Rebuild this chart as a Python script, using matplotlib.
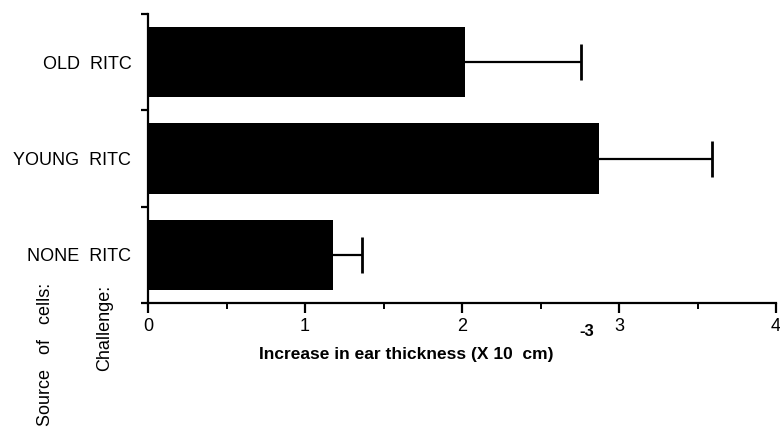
import numpy as np
import matplotlib
matplotlib.use('Agg')
import matplotlib.pyplot as plt
from matplotlib.ticker import MultipleLocator, FixedLocator

plt.rcParams['font.family'] = ['Liberation Sans', 'DejaVu Sans']

# bottom to top
groups = ['NONE  RITC', 'YOUNG  RITC', 'OLD  RITC']
means = [1.18, 2.87, 2.02]
errs = [0.18, 0.72, 0.74]

W, H = 780, 429
fig = plt.figure(figsize=(W / 100, H / 100), dpi=100)
# axes box in pixels: left 148, right 776, bottom axis at y=303, top at y=14
ax = fig.add_axes([148 / W, (H - 303) / H, (776 - 148) / W, (303 - 14) / H])

ypos = np.arange(len(groups))
tops = np.array(means) + np.array(errs)
ax.barh(ypos, means, height=0.73, color='black', zorder=2)
# one-sided error bars (upper only)
ax.hlines(ypos, means, tops, color='black', linewidth=1.6, zorder=3)
ax.plot(tops, ypos, linestyle='none', marker='|', markersize=26,
        markeredgewidth=2, color='black', zorder=3)

ax.set_xlim(0, 4)
ax.set_ylim(-0.5, 2.5)

for s in ['top', 'right']:
    ax.spines[s].set_visible(False)
for s in ['left', 'bottom']:
    ax.spines[s].set_linewidth(1.6)

ax.xaxis.set_major_locator(MultipleLocator(1))
ax.xaxis.set_minor_locator(MultipleLocator(0.5))
ax.tick_params(axis='x', which='major', direction='out', length=7, width=1.6,
               labelsize=13, pad=4)
ax.tick_params(axis='x', which='minor', direction='out', length=4, width=1.4)

ax.set_yticks(ypos)
ax.set_yticklabels(groups)
ax.yaxis.set_minor_locator(FixedLocator([-0.5, 0.5, 1.5, 2.5]))
ax.tick_params(axis='y', which='major', length=0, labelsize=13, pad=12)
ax.tick_params(axis='y', which='minor', direction='out', length=5, width=1.6)

# axis title with exponent
fig.text(406 / W, 1 - 355 / H, 'Increase in ear thickness (X 10  cm)',
         fontsize=12.5, fontweight='bold', ha='center', va='center')
fig.text(587 / W, 1 - 332 / H, '-3', fontsize=12, fontweight='bold',
         ha='center', va='center')

# rotated row headers
fig.text(46 / W, 1 - 283 / H, 'Source   of   cells:', fontsize=13,
         rotation=90, ha='center', va='top')
fig.text(105 / W, 1 - 285 / H, 'Challenge:', fontsize=13,
         rotation=90, ha='center', va='top')

fig.savefig('out.png', dpi=100)
